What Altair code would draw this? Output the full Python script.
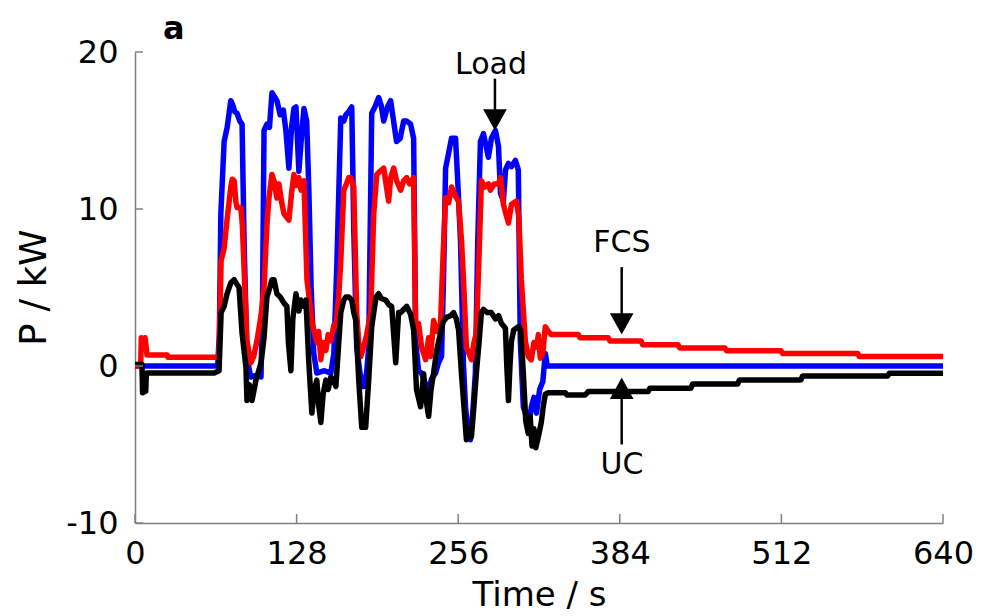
import altair as alt
import pandas as pd

# ---------------- data ----------------
TIME_TICKS = [0, 128, 256, 384, 512, 640]
P_TICKS = [-10, 0, 10, 20]

# (time [s], power [kW])
LOAD = [(0, 0.0), (65.5, 0.0), (66.8, 2.0), (68, 9.7), (70.6, 14.3), (73, 15.2), (75.9, 16.9),
        (77.5, 16.6), (79, 16.2), (80.8, 16.1), (83, 15.6), (84.8, 15.4), (86.4, 8.0), (88.7, 0.5),
        (91.7, -0.7), (96, -0.6), (99.8, -0.7), (101, 4.0), (102.2, 15.0), (104.5, 15.4), (106.5, 15.2),
        (108.5, 17.4), (110.1, 17.2), (112.4, 16.9), (115, 16.0), (117.5, 16.3), (119.5, 15.0),
        (121.9, 12.6), (124, 15.2), (125.9, 16.4), (127.5, 16.5), (129.8, 12.4), (131.5, 14.2),
        (133.8, 16.4), (136, 15.6), (137.7, 11.2), (139.5, 5.0), (141.6, 0.8), (144, -0.45), (150, -0.3),
        (155.1, -0.45), (157.5, 0.8), (159.9, 6.5), (163, 15.8), (165.4, 15.6), (167, 16.0), (169.3, 16.2),
        (171.7, 16.5), (173.3, 8.6), (175.6, 1.2), (179.6, -1.3), (181.2, -1.3), (183.5, -0.4), (185.1, 1.2),
        (187.5, 16.1), (190, 16.5), (193, 17.1), (195, 16.6), (197, 15.6), (200, 16.5), (202.5, 16.9),
        (205, 15.5), (207.2, 14.3), (210, 14.5), (212.8, 15.6), (215.2, 15.6), (218.3, 15.4), (220.7, 14.5),
        (222.3, 1.6), (224.6, -0.3), (227, -0.45), (230.2, -1.2), (232.6, -1.5), (235, -0.8), (238.1, -0.45),
        (240.4, 0.2), (242.8, 0.6), (244.5, 6.0), (246, 12.6), (248.5, 13.6), (250.7, 14.5), (253.9, 14.5),
        (255.5, 12.0), (257.8, 8.0), (260.2, 0.0), (261.8, -2.6), (263.5, -4.0), (265.7, -4.7), (267.5, -3.0),
        (269.6, -0.45), (271.5, 8.0), (273.6, 14.3), (276, 14.8), (279.9, 13.3), (282.3, 14.5), (285.5, 15.0),
        (287.9, 14.0), (289.5, 11.0), (291.8, 10.5), (293.5, 12.5), (295.8, 12.9), (298.2, 12.7),
        (301.3, 13.1), (303.6, 12.5), (305.2, 1.6), (307.6, -2.6), (310, -3.2), (312, -3.6), (314, -2.6),
        (316, -2.0), (318, -3.0), (320.5, -1.5), (323, -1.0), (325, 0.8), (326.5, 0.0), (329, 0.0), (640, 0.0)]

FCS = [(0, 0.0), (4.5, 0.0), (5, 1.8), (6.5, 1.4), (8, 1.8), (9.5, 0.7), (25.5, 0.7), (26, 0.55),
       (66.6, 0.55), (68.2, 6.7), (70.6, 7.5), (72.9, 9.3), (75.9, 11.4), (77, 11.9), (78.5, 11.8),
       (80, 10.4), (80.8, 10.1), (83.8, 10.1), (85, 9.0), (88.7, 1.6), (91.7, 0.2), (94, 0.6), (96.6, 1.6),
       (99.8, 3.2), (102.2, 5.0), (104.5, 9.0), (106.1, 10.7), (108.5, 12.2), (110.1, 11.8), (112.4, 10.7),
       (114, 11.6), (116, 10.5), (118, 9.7), (121.9, 9.3), (124, 11.0), (125.9, 12.2), (127.5, 11.5),
       (129.8, 12.0), (131.5, 11.2), (133.8, 11.8), (136.2, 5.5), (140.1, 2.9), (141.6, 2.3), (144, 1.5),
       (145.5, 2.2), (147.2, 0.4), (149, 1.5), (151.2, 1.0), (153, 2.0), (155.1, 1.6), (157.5, 2.6),
       (159.1, 2.5), (161.4, 4.5), (163, 6.7), (165.4, 11.2), (167.5, 11.6), (169.3, 12.0), (170.9, 12.0),
       (173.3, 11.4), (175.6, 3.4), (177.2, 1.5), (178.8, 0.6), (181.2, 1.2), (183.5, 2.0), (186.7, 3.4),
       (189.1, 9.7), (191.5, 12.2), (194, 12.4), (197, 12.6), (199, 11.5), (200.9, 10.5), (202.5, 12.0),
       (204.9, 12.6), (207.2, 11.8), (210.4, 11.2), (212.8, 11.8), (215.2, 12.0), (217.5, 11.6),
       (220.7, 12.0), (222.3, 2.5), (224.6, 2.7), (227, 1.2), (230.2, 0.4), (232.6, 1.8), (234.1, 0.6),
       (236.5, 2.9), (239, 2.2), (242, 2.7), (244, 7.0), (246, 10.7), (248.5, 10.4), (250.7, 11.4),
       (253.9, 10.8), (256.3, 10.5), (258.6, 8.0), (260.2, 5.5), (262.5, 1.2), (264.5, 0.8), (266.5, 0.4),
       (268.5, 1.5), (270.4, 2.1), (272.5, 7.0), (274.4, 11.8), (277, 11.4), (279.9, 11.6), (281.5, 11.2),
       (284.5, 11.6), (287.9, 11.6), (289.5, 12.0), (291.8, 10.3), (293.4, 9.8), (295.8, 9.1),
       (298.2, 10.3), (302.1, 10.5), (304, 9.5), (306, 5.5), (309.2, 1.6), (311.5, 0.6), (313.9, 0.4),
       (316, 1.5), (318, 1.2), (319.5, 2.0), (321, 0.5), (323, 0.8), (325, 2.5), (327.4, 2.2), (329.7, 2.0),
       (351.1, 2.0), (352.5, 1.8), (374.8, 1.8), (376.2, 1.6), (400.8, 1.6), (402.2, 1.35), (430.1, 1.35),
       (431.5, 1.15), (467.2, 1.15), (468.6, 0.97), (511.6, 0.97), (513, 0.8), (572.4, 0.8), (573.8, 0.6),
       (640, 0.6)]

UC = [(0, 0.1), (5.5, 0.1), (6, -1.7), (8.5, -1.6), (9, -0.45), (62.7, -0.45), (66.6, -0.3), (68.2, 3.4),
      (70.6, 3.8), (72.9, 4.6), (75.9, 5.3), (78.5, 5.5), (80.8, 5.2), (82.4, 5.0), (84.8, 2.1),
      (87.9, -0.1), (88.7, -2.2), (90.5, -1.2), (92.7, -2.2), (95.8, -0.9), (99.8, 0.2), (102.2, 1.8),
      (104.5, 4.4), (106.1, 4.8), (108.5, 5.5), (110.1, 5.5), (112.4, 4.6), (115, 4.4), (118, 4.0),
      (120.3, 3.8), (121.5, 1.5), (123.5, -0.3), (125, 3.0), (127.5, 4.6), (129.8, 3.5), (131.4, 4.2),
      (133.5, 3.8), (135.4, 4.2), (137.7, 0.2), (140.1, -3.0), (142, -1.5), (144, -0.9), (145.5, -2.5),
      (147.2, -3.6), (149, -1.8), (151.2, -0.9), (153, -1.5), (155.1, -0.7), (157.5, -1.0), (159.1, -1.3),
      (161.4, 1.5), (163, 3.4), (165.4, 4.2), (167, 4.4), (169.3, 4.4), (171.7, 4.2), (173.3, 3.4),
      (174.9, 2.9), (177.2, -0.9), (179.6, -3.9), (182.7, -3.9), (185.1, -0.9), (187.5, 2.5), (189.1, 3.4),
      (191, 4.4), (193, 4.6), (195, 4.3), (198.6, 4.2), (201, 3.9), (203.3, 3.8), (204.9, 2.0), (206.5, 0.2),
      (208.8, 3.4), (210.4, 3.4), (212.8, 3.6), (215.2, 3.8), (218.3, 3.3), (220.7, 2.3), (223, -1.5),
      (226.2, -2.6), (228.6, -0.5), (230.2, -2.0), (232.6, -3.2), (234.5, -1.5), (236.5, -0.45), (239, 1.0),
      (242, 2.1), (244, 2.8), (246.8, 3.1), (250, 3.2), (252.3, 3.4), (254.5, 3.0), (256.3, 2.3),
      (258.6, -0.5), (260.5, -2.5), (262.5, -4.7), (264, -4.0), (266.5, -4.5), (268.5, -2.5), (270.4, -0.45),
      (272.5, 1.5), (274.4, 3.4), (276, 3.6), (279, 3.4), (282.3, 3.4), (285.5, 3.0), (288, 3.2),
      (290.3, 2.7), (293.4, 2.4), (294.5, 0.0), (295.8, -2.2), (297, 0.0), (298.2, 1.6), (300, 2.3),
      (303.6, 2.5), (305.5, 2.3), (307.6, -0.45), (309.5, -3.5), (311.5, -4.3), (313, -3.2), (314.5, -5.1),
      (316, -4.0), (317.5, -5.2), (319.5, -4.5), (321.8, -3.6), (323.5, -2.5), (325, -1.8), (327.4, -1.7),
      (340.8, -1.7), (342.2, -1.85), (356.6, -1.85), (359, -1.63), (406.4, -1.63), (407.8, -1.42),
      (440.3, -1.42), (441.7, -1.14), (477.4, -1.14), (478.8, -0.89), (527.4, -0.89), (528.8, -0.63),
      (596.1, -0.63), (597.5, -0.46), (640, -0.46)]

SERIES = [("Load", LOAD, "#0000ff"), ("FCS", FCS, "#ff0000"), ("UC", UC, "#000000")]

# annotation labels: (text, time, power of label centre)
LABELS = [("Load", 282, 19.2), ("FCS", 385.7, 7.85), ("UC", 385.7, -6.3)]
# arrow shafts: (time, from power, to power)
SHAFTS = [(285.1, 18.3, 16.0), (385.5, 6.3, 3.3), (385.5, -5.0, -2.1)]
# arrow heads: (time, tip power, direction)
HEADS = [(285.1, 15.0, "down"), (385.5, 2.0, "down"), (385.5, -0.74, "up")]

# ---------------- chart ----------------
W, H = 808, 471
FONT = "DejaVu Sans"

X_ENC = alt.X("t:Q", scale=alt.Scale(domain=[0, 640], nice=False, zero=False),
              axis=alt.Axis(values=TIME_TICKS, title="Time / s", labelPadding=15,
                            labelFlush=False, labelOverlap=False,
                            titleFontSize=34, titleY=82, titleBaseline="alphabetic"))
Y_ENC = alt.Y("p:Q", scale=alt.Scale(domain=[-10, 20], nice=False, zero=False),
              axis=alt.Axis(values=P_TICKS, title="P / kW", labelPadding=17,
                            labelOverlap=False,
                            labelExpr="datum.value < 0 ? '-' + abs(datum.value) : '' + datum.value",
                            titleFontSize=37, titleAngle=270, titleX=-90, titleY=235,
                            titleAlign="center", titleBaseline="alphabetic"))

layers = []
for name, series, color in SERIES:
    d = pd.DataFrame({"t": [s[0] for s in series], "p": [s[1] for s in series]})
    d["i"] = range(len(d))
    layers.append(
        alt.Chart(d).mark_line(color=color, strokeWidth=5.5, strokeJoin="round")
        .encode(x=X_ENC, y=Y_ENC, order="i:Q")
    )

# inward ticks
xt = pd.DataFrame({"t": TIME_TICKS})
yt = pd.DataFrame({"p": P_TICKS})
layers.append(alt.Chart(xt).mark_rule(color="#808080", strokeWidth=1.5)
              .encode(x=X_ENC, y=alt.value(H), y2=alt.value(H - 9)))
layers.append(alt.Chart(yt).mark_rule(color="#808080", strokeWidth=1.5)
              .encode(y=Y_ENC, x=alt.value(0), x2=alt.value(8)))

# annotations
lab = pd.DataFrame({"txt": [l[0] for l in LABELS], "t": [l[1] for l in LABELS], "p": [l[2] for l in LABELS]})
layers.append(alt.Chart(lab).mark_text(font=FONT, fontSize=30, color="black", align="center",
                                       baseline="middle")
              .encode(x=X_ENC, y=Y_ENC, text="txt:N"))
sh = pd.DataFrame({"t": [s[0] for s in SHAFTS], "p": [s[1] for s in SHAFTS], "p2": [s[2] for s in SHAFTS]})
layers.append(alt.Chart(sh).mark_rule(color="black", strokeWidth=2.5)
              .encode(x=X_ENC, y=Y_ENC, y2="p2:Q"))
for direction, path in [("down", "M-1,-1.8L1,-1.8L0,0Z"), ("up", "M-1,1.8L1,1.8L0,0Z")]:
    hd = pd.DataFrame({"t": [h[0] for h in HEADS if h[2] == direction],
                       "p": [h[1] for h in HEADS if h[2] == direction]})
    layers.append(alt.Chart(hd).mark_point(shape=path, size=560, filled=True, color="black",
                                           opacity=1, strokeWidth=0)
                  .encode(x=X_ENC, y=Y_ENC))

# panel letter
panel = pd.DataFrame({"label": ["a"]})
layers.append(alt.Chart(panel).mark_text(font=FONT, fontSize=32, fontWeight="bold", color="black",
                                         align="left", baseline="alphabetic")
              .encode(x=alt.value(28), y=alt.value(-13), text="label:N"))

chart = (
    alt.layer(*layers)
    .properties(width=W, height=H, autosize=alt.AutoSizeParams(type="none"),
                padding={"left": 127, "top": 44, "right": 32, "bottom": 90})
    .configure_view(stroke=None)
    .configure_axis(grid=False, ticks=False, tickSize=0, domainColor="#808080", domainWidth=1.5,
                    labelFont=FONT, labelFontSize=32, labelColor="black",
                    titleFont=FONT, titleFontWeight="normal", titleColor="black")
)

chart.save("out.html", embed_options={"renderer": "svg", "actions": False})
